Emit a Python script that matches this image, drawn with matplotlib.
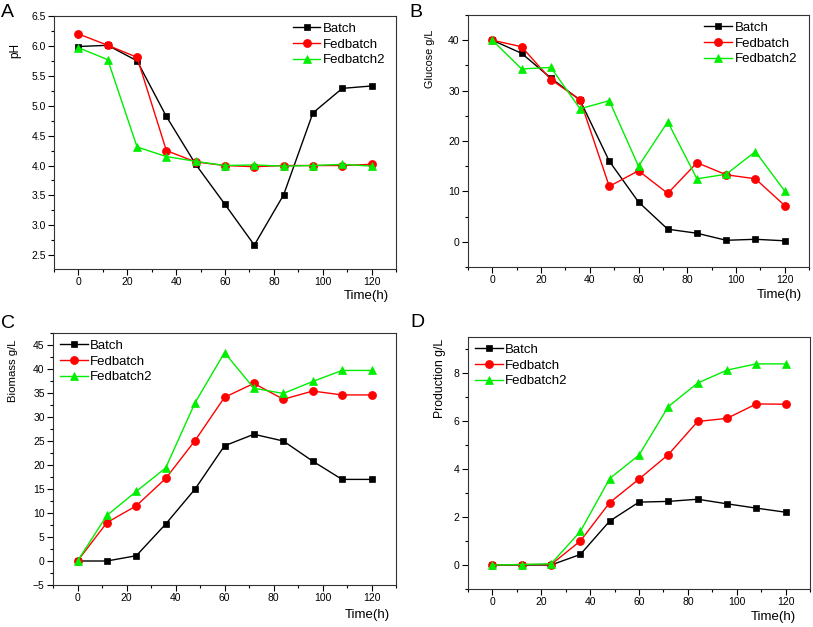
import numpy as np
import matplotlib
matplotlib.use('Agg')
import matplotlib.pyplot as plt
from matplotlib.ticker import MultipleLocator

plt.rcParams['font.family'] = ['Liberation Sans', 'DejaVu Sans']

# sampling times (h)
time = [0, 12, 24, 36, 48, 60, 72, 84, 96, 108, 120]
series = ['Batch', 'Fedbatch', 'Fedbatch2']

# A - pH
ph_batch = [5.99, 6.01, 5.75, 4.82, 4.02, 3.35, 2.67, 3.51, 4.88, 5.29, 5.33]
ph_fed = [6.20, 6.01, 5.81, 4.25, 4.06, 4.00, 3.98, 4.00, 4.00, 4.00, 4.02]
ph_fed2 = [5.97, 5.77, 4.31, 4.15, 4.07, 4.00, 4.01, 3.99, 4.00, 4.02, 3.99]

# B - glucose g/L
glc_batch = [40.0, 37.4, 32.5, 28.1, 16.0, 7.9, 2.5, 1.7, 0.3, 0.5, 0.2]
glc_fed = [40.0, 38.7, 32.2, 28.2, 11.0, 14.1, 9.6, 15.7, 13.3, 12.5, 7.2]
glc_fed2 = [40.0, 34.3, 34.6, 26.4, 28.0, 15.0, 23.8, 12.5, 13.4, 17.9, 10.1]

# C - biomass g/L
bio_batch = [0.0, 0.0, 1.1, 7.7, 15.0, 24.0, 26.4, 25.0, 20.8, 17.0, 17.0]
bio_fed = [0.0, 8.0, 11.5, 17.2, 25.1, 34.1, 37.0, 33.7, 35.4, 34.6, 34.6]
bio_fed2 = [0.0, 9.5, 14.5, 19.4, 33.0, 43.4, 36.0, 34.9, 37.4, 39.7, 39.7]

# D - production g/L
prod_batch = [0.0, 0.0, 0.0, 0.44, 1.83, 2.62, 2.65, 2.74, 2.55, 2.37, 2.2]
prod_fed = [0.0, 0.02, 0.02, 1.0, 2.6, 3.58, 4.6, 5.98, 6.11, 6.71, 6.7]
prod_fed2 = [0.0, 0.02, 0.05, 1.4, 3.6, 4.58, 6.6, 7.58, 8.12, 8.38, 8.38]

colors = ['black', '#ff0000', '#00ee00']
markers = ['s', 'o', '^']
msizes = [4.4, 5.8, 6.4]

W, H = 813, 627
fig = plt.figure(figsize=(W / 100, H / 100), dpi=100)


def px_axes(left, top, right, bottom):
    return fig.add_axes([left / W, 1 - bottom / H, (right - left) / W, (bottom - top) / H])


def draw(ax, data, ylim, major, minor, legloc, anchor):
    for d, c, m, ms, name in zip(data, colors, markers, msizes, series):
        ax.plot(time, d, color=c, marker=m, markersize=ms, lw=1.0, label=name,
                markeredgewidth=0.5)
    ax.set_xlim(-10, 130)
    ax.set_ylim(*ylim)
    ax.xaxis.set_major_locator(MultipleLocator(20))
    ax.xaxis.set_minor_locator(MultipleLocator(10))
    ax.yaxis.set_major_locator(MultipleLocator(major))
    ax.yaxis.set_minor_locator(MultipleLocator(minor))
    ax.tick_params(which='both', direction='out', labelsize=7.5, width=0.8,
                   top=False, right=False, pad=2)
    ax.tick_params(which='major', length=4)
    ax.tick_params(which='minor', length=2.5)
    for s in ax.spines.values():
        s.set_linewidth(0.8)
        s.set_color('#333333')
    ax.legend(loc=legloc, bbox_to_anchor=anchor, frameon=False, fontsize=9.5,
              handlelength=2.1, labelspacing=0.27, handletextpad=0.2,
              borderaxespad=0)


axA = px_axes(54, 16, 396, 269)
draw(axA, [ph_batch, ph_fed, ph_fed2], (2.27, 6.5), 0.5, 0.25,
     'upper right', (0.985, 0.995))
axB = px_axes(468, 15, 809, 267)
draw(axB, [glc_batch, glc_fed, glc_fed2], (-5, 45), 10, 5,
     'upper right', (0.98, 0.995))
axC = px_axes(53, 333, 396, 585)
draw(axC, [bio_batch, bio_fed, bio_fed2], (-5, 47.5), 5, 2.5,
     'upper left', (0.005, 0.995))
axD = px_axes(468, 337, 810, 589)
draw(axD, [prod_batch, prod_fed, prod_fed2], (-1, 9.5), 2, 1,
     'upper left', (0.005, 0.995))

# panel letters
for lab, x, y in [('A', 1, 4), ('B', 409, 4), ('C', 1, 315), ('D', 410, 314)]:
    fig.text(x / W, 1 - y / H, lab, fontsize=14, va='top', ha='left')

# y labels
for lab, x, y, fs in [('pH', 15, 51, 8.5), ('Glucose g/L', 430, 59, 7.8),
                      ('Biomass g/L', 13, 371, 8.2), ('Production g/L', 440, 378, 8.8)]:
    fig.text(x / W, 1 - y / H, lab, fontsize=fs, rotation=90, ha='center', va='center')

# x labels
for x, y in [(366, 296), (779, 295), (367, 615), (773, 617)]:
    fig.text(x / W, 1 - y / H, 'Time(h)', fontsize=9.5, ha='center', va='center')

fig.savefig('out.png', dpi=100)
